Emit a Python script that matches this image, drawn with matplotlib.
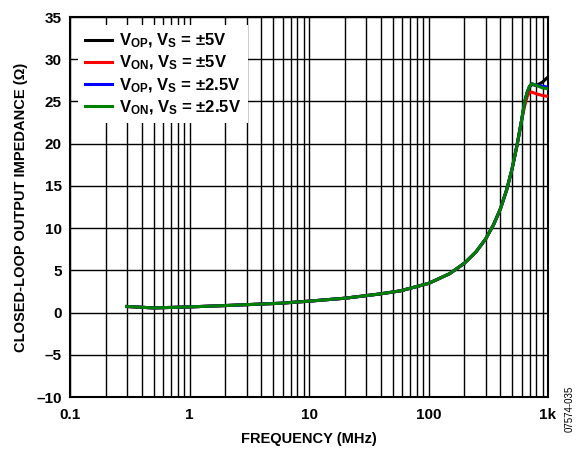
import matplotlib
matplotlib.use('Agg')
import matplotlib.pyplot as plt
import numpy as np

plt.rcParams['font.family'] = ['Liberation Sans', 'DejaVu Sans']
plt.rcParams['font.weight'] = 'bold'
plt.rcParams['mathtext.fontset'] = 'custom'
plt.rcParams['mathtext.rm'] = 'Liberation Sans:bold'
plt.rcParams['mathtext.bf'] = 'Liberation Sans:bold'

# frequency in MHz, impedance in ohm
freq_common = [0.3, 0.5, 1, 2, 5.7, 10, 20, 39, 58, 100, 150, 200, 250, 300, 350,
               400, 450, 500, 550, 600]
z_common = [0.72, 0.55, 0.67, 0.83, 1.1, 1.35, 1.7, 2.2, 2.57, 3.45, 4.6, 5.85, 7.2, 8.7,
            10.4, 12.3, 14.5, 17.0, 19.8, 22.7]

freq_tail = [636, 670, 700, 732, 802, 900, 1000]
z_vop_5 = [24.9, 26.1, 26.7, 27.0, 26.9, 27.3, 27.9]
z_von_5 = [24.4, 25.6, 26.1, 26.1, 25.9, 25.7, 25.6]
z_vop_25 = [24.9, 26.1, 26.8, 27.1, 26.9, 26.8, 26.7]
z_von_25 = [24.9, 26.1, 26.8, 27.1, 26.9, 26.6, 26.5]

labels = [r'$\mathrm{V_{OP}}$, $\mathrm{V_S}$ = ±5V',
          r'$\mathrm{V_{ON}}$, $\mathrm{V_S}$ = ±5V',
          r'$\mathrm{V_{OP}}$, $\mathrm{V_S}$ = ±2.5V',
          r'$\mathrm{V_{ON}}$, $\mathrm{V_S}$ = ±2.5V']
colors = ['#000000', '#ff0000', '#0000ff', '#008000']
series = [z_vop_5, z_von_5, z_vop_25, z_von_25]

fig = plt.figure(figsize=(5.84, 4.49), dpi=100)
ax = fig.add_axes([0.1199, 0.1158, 0.8185, 0.8463])

for tail, color, label in zip(series, colors, labels):
    x = freq_common + freq_tail
    y = z_common + tail
    ax.plot(x, y, color=color, lw=2.2, label=label, zorder=3,
            solid_joinstyle='round')

ax.set_xscale('log')
ax.set_xlim(0.1, 1000)
ax.set_ylim(-10, 35)
ax.set_yticks(np.arange(-10, 36, 5))
ax.set_yticklabels([f'{v}'.replace('-', '\u2013') for v in range(-10, 36, 5)])
ax.set_xticks([0.1, 1, 10, 100, 1000])
ax.set_xticklabels(['0.1', '1', '10', '100', '1k'])
ax.tick_params(axis='x', which='both', length=0, labelsize=11, pad=8)
ax.tick_params(axis='y', which='both', length=0, labelsize=11, pad=6)
ax.grid(True, which='both', axis='x', color='black', lw=1.0)
ax.grid(True, which='major', axis='y', color='black', lw=1.0)
for s in ax.spines.values():
    s.set_linewidth(1.5)

ax.set_xlabel('FREQUENCY (MHz)', fontsize=10.5, fontweight='bold', labelpad=7)
ax.set_ylabel('CLOSED-LOOP OUTPUT IMPEDANCE (\u03a9)', fontsize=10.5, fontweight='bold', labelpad=6)

leg = ax.legend(loc='upper left', frameon=True, fancybox=False, framealpha=1,
                edgecolor='white', fontsize=12, handlelength=1.6,
                borderaxespad=0.5, labelspacing=0.22, handletextpad=0.45)
leg.get_frame().set_linewidth(0)
leg.set_zorder(5)

fig.text(0.975, 0.09, '07574-035', rotation=90, fontsize=7, fontweight='normal',
         ha='center', va='center')

fig.savefig('out.png', dpi=100)
